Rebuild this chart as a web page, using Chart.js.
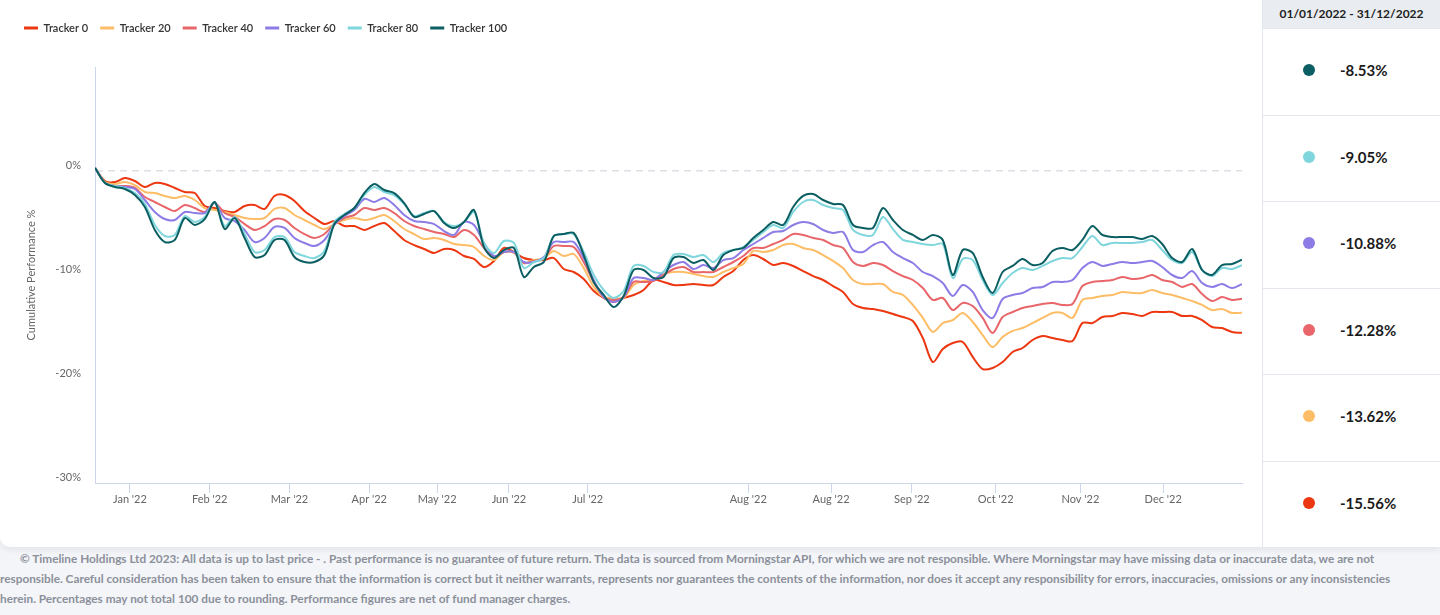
<!DOCTYPE html>
<html>
<head>
<meta charset="utf-8">
<script src="https://cdn.jsdelivr.net/npm/chart.js@4.4.0/dist/chart.umd.min.js"></script>
<style>
  html, body { margin: 0; padding: 0; }
  body { width: 1440px; height: 615px; background: #f4f5f9; font-family: Lato, "Noto Sans", sans-serif; overflow: hidden; position: relative; }
  .card { position: absolute; left: 0; top: 0; width: 1440px; height: 547px; background: #fff; border-bottom-left-radius: 10px; box-shadow: 0 3px 6px rgba(30, 40, 60, 0.08); }
  .chart-box { position: absolute; left: 0; top: 0; width: 1262px; height: 547px; }
  .side { position: absolute; left: 1262px; top: 0; width: 178px; height: 547px; border-left: 1px solid #e2e6ed; box-sizing: border-box; }
  .side .head { height: 28px; line-height: 28px; background: #e9ecf0; text-align: center; font-weight: 700; font-size: 12px; color: #222; }
  .side .row { height: 86.5px; display: flex; align-items: center; box-sizing: border-box; border-top: 1px solid #e3e7ed; padding-left: 40px; padding-bottom: 3px; }
  .side .row:first-of-type { border-top: none; }
  .side .dot { width: 12px; height: 12px; border-radius: 50%; margin-right: 25px; }
  .side .val { font-weight: 700; font-size: 15px; color: #1b1b1b; }
  .foot { position: absolute; left: 0; top: 549px; font-size: 11.8px; font-weight: 700; color: #8b909a; line-height: 20px; white-space: nowrap; }
  .foot span { display: block; }
  .foot span:first-child { padding-left: 20px; }
</style>
</head>
<body>
<div class="card">
  <div class="chart-box"><canvas id="perfChart"></canvas></div>
  <div class="side" id="side"></div>
</div>
<div class="foot">
  <span>© Timeline Holdings Ltd 2023: All data is up to last price - . Past performance is no guarantee of future return. The data is sourced from Morningstar API, for which we are not responsible. Where Morningstar may have missing data or inaccurate data, we are not</span>
  <span>responsible. Careful consideration has been taken to ensure that the information is correct but it neither warrants, represents nor guarantees the contents of the information, nor does it accept any responsibility for errors, inaccuracies, omissions or any inconsistencies</span>
  <span>herein. Percentages may not total 100 due to rounding. Performance figures are net of fund manager charges.</span>
</div>
<script>
const seriesNames = ["Tracker 0", "Tracker 20", "Tracker 40", "Tracker 60", "Tracker 80", "Tracker 100"];
const trackerColors = ["#ec3710", "#fdbd66", "#e8666a", "#8d7ce6", "#7fd6dc", "#0b5e61"];

const periodLabel = "01/01/2022 - 31/12/2022";
const periodReturns = [-15.56, -13.62, -12.28, -10.88, -9.05, -8.53];

const xTickPositions = [3.5, 11.5, 19.5, 27.5, 34.3, 41.5, 49.4, 65.5, 73.8, 81.9, 90.3, 98.8, 107.1];
const xTickLabels = ["Jan '22", "Feb '22", "Mar '22", "Apr '22", "May '22", "Jun '22", "Jul '22",
  "Aug '22", "Aug '22", "Sep '22", "Oct '22", "Nov '22", "Dec '22"];
const yTickValues = [-30, -20, -10, 0];

// cumulative performance %
const tracker0 = [
  0.3, -0.96, -1.06, -0.67, -0.96, -1.54, -1.15, -1.25, -1.63, -2.02,
  -2.12, -3.37, -3.56, -3.85, -3.94, -3.37, -3.27, -3.65, -2.40, -2.30,
  -2.88, -3.85, -4.52, -5.10, -4.81, -5.29, -5.29, -5.67, -5.29, -5.00,
  -5.77, -6.63, -7.12, -7.50, -7.88, -7.50, -7.60, -8.17, -8.46, -9.23,
  -8.65, -7.40, -7.79, -8.37, -8.56, -8.56, -8.37, -9.42, -9.71, -10.38,
  -11.54, -12.21, -12.60, -12.21, -11.92, -11.44, -10.48, -10.67, -10.96, -10.96,
  -10.87, -10.96, -10.96, -10.19, -9.62, -8.56, -8.08, -8.46, -9.04, -8.85,
  -9.13, -9.62, -10.10, -10.48, -11.06, -11.63, -12.79, -13.17, -13.27, -13.46,
  -13.75, -14.04, -14.42, -16.06, -18.37, -17.12, -16.54, -16.44, -17.88, -19.04,
  -18.94, -18.37, -17.40, -17.02, -16.25, -15.87, -16.06, -16.25, -16.35, -14.62,
  -14.62, -14.04, -13.94, -13.65, -13.75, -13.94, -13.56, -13.56, -13.56, -13.94,
  -13.94, -14.33, -15.00, -15.10, -15.48, -15.56
];
const tracker20 = [
  0.3, -1.06, -1.25, -1.06, -1.35, -2.02, -2.12, -2.40, -2.60, -2.40,
  -2.79, -3.56, -3.75, -3.94, -4.23, -4.52, -4.62, -4.52, -3.65, -3.56,
  -4.23, -4.71, -5.19, -5.58, -5.10, -4.71, -4.52, -4.71, -4.52, -4.23,
  -4.81, -5.58, -6.06, -6.54, -6.44, -6.63, -7.02, -7.12, -7.31, -8.17,
  -8.56, -7.79, -7.88, -8.85, -8.56, -8.37, -7.69, -8.17, -7.98, -9.33,
  -11.15, -12.12, -12.21, -12.21, -10.96, -10.58, -10.48, -9.90, -9.71, -9.71,
  -9.90, -10.10, -10.19, -9.71, -9.33, -8.94, -7.69, -7.79, -7.60, -7.12,
  -7.02, -7.40, -7.60, -8.08, -8.65, -9.33, -10.48, -10.87, -10.87, -10.87,
  -11.63, -11.92, -12.88, -14.13, -15.48, -14.62, -14.33, -13.65, -14.52, -15.77,
  -16.92, -15.96, -15.38, -15.10, -14.62, -14.13, -13.65, -13.65, -14.13, -12.40,
  -12.21, -12.02, -11.92, -11.63, -11.73, -11.73, -11.44, -11.73, -11.92, -12.21,
  -12.50, -12.88, -13.37, -13.27, -13.65, -13.62
];
const tracker40 = [
  0.3, -1.15, -1.44, -1.44, -1.63, -2.50, -2.98, -3.46, -3.85, -3.27,
  -3.56, -3.94, -3.08, -4.04, -4.42, -5.10, -5.67, -5.29, -4.62, -4.71,
  -5.48, -6.06, -6.44, -6.06, -5.10, -4.52, -4.23, -3.56, -3.75, -3.56,
  -4.04, -4.81, -5.29, -5.58, -5.87, -6.06, -6.35, -5.67, -6.15, -7.40,
  -8.27, -7.79, -7.79, -8.85, -8.65, -8.37, -7.21, -7.21, -7.31, -8.75,
  -10.67, -12.12, -12.40, -12.12, -10.67, -10.67, -10.58, -10.00, -9.42, -9.23,
  -9.71, -9.71, -9.71, -9.23, -8.75, -8.17, -7.40, -7.40, -7.02, -6.63,
  -6.06, -6.15, -6.44, -6.63, -7.12, -7.40, -8.75, -9.13, -8.85, -9.04,
  -9.62, -10.10, -10.48, -11.25, -12.40, -12.21, -13.37, -12.69, -12.98, -14.13,
  -15.58, -14.04, -13.56, -13.17, -12.98, -12.79, -12.69, -12.88, -12.79, -11.06,
  -10.67, -10.58, -10.48, -10.19, -10.38, -10.29, -10.00, -10.48, -10.67, -11.15,
  -10.87, -11.83, -12.50, -12.12, -12.40, -12.28
];
const tracker60 = [
  0.3, -1.15, -1.44, -1.54, -1.73, -2.79, -3.94, -4.62, -4.71, -3.94,
  -4.04, -4.04, -3.08, -4.52, -4.81, -5.67, -6.83, -6.44, -5.38, -5.48,
  -6.44, -6.92, -7.21, -6.63, -5.19, -4.33, -3.75, -2.69, -2.98, -2.60,
  -3.27, -4.23, -4.81, -4.90, -5.10, -5.77, -6.15, -4.90, -5.19, -6.92,
  -8.17, -7.79, -7.79, -8.75, -8.75, -8.27, -6.83, -6.83, -6.83, -8.37,
  -10.48, -12.12, -12.60, -12.12, -10.29, -10.29, -10.48, -9.71, -9.04, -8.75,
  -9.42, -9.04, -9.33, -8.56, -8.37, -7.60, -7.02, -6.44, -5.87, -5.77,
  -5.19, -4.90, -5.10, -5.67, -5.96, -5.87, -7.60, -7.79, -7.12, -6.83,
  -7.79, -8.37, -8.85, -9.71, -10.10, -10.77, -12.02, -10.96, -11.63, -13.37,
  -14.13, -12.31, -11.92, -11.73, -11.25, -11.15, -10.67, -10.67, -10.48, -9.33,
  -8.75, -9.13, -8.94, -8.75, -8.85, -8.75, -8.65, -9.23, -10.00, -10.29,
  -9.62, -10.77, -11.15, -10.87, -11.25, -10.88
];
const tracker80 = [
  0.3, -1.15, -1.44, -1.63, -2.12, -3.17, -5.19, -6.25, -6.15, -4.33,
  -4.90, -4.42, -2.98, -5.29, -4.42, -6.06, -7.79, -7.60, -6.35, -6.35,
  -7.79, -8.17, -8.37, -7.69, -4.90, -4.13, -3.56, -2.31, -1.54, -2.02,
  -2.31, -3.17, -4.33, -4.04, -3.85, -4.90, -5.29, -4.90, -3.94, -6.92,
  -7.88, -6.73, -6.92, -9.33, -8.75, -8.37, -6.25, -6.06, -6.06, -7.79,
  -10.00, -11.44, -12.21, -11.54, -9.13, -9.13, -9.71, -9.71, -8.08, -7.98,
  -8.27, -8.08, -8.75, -7.88, -7.60, -7.31, -6.63, -5.87, -5.19, -5.48,
  -3.94, -2.98, -2.79, -3.27, -3.56, -3.75, -5.67, -6.15, -6.15, -4.42,
  -5.58, -6.63, -6.83, -7.02, -7.12, -7.02, -10.29, -8.46, -8.56, -10.48,
  -11.92, -10.77, -9.81, -9.33, -9.52, -9.13, -8.65, -8.37, -8.37, -7.31,
  -6.25, -7.12, -6.92, -6.92, -6.92, -6.83, -6.63, -7.60, -8.56, -8.85,
  -7.79, -9.52, -10.10, -9.33, -9.42, -9.05
];
const tracker100 = [
  0.3, -1.15, -1.54, -1.73, -2.31, -3.46, -5.67, -6.83, -6.63, -4.52,
  -5.19, -4.62, -2.98, -5.58, -4.52, -6.44, -8.27, -8.08, -6.63, -6.63,
  -8.27, -8.75, -8.75, -8.08, -5.10, -4.23, -3.56, -2.12, -1.25, -1.83,
  -2.12, -3.08, -4.42, -4.13, -3.85, -5.00, -5.48, -4.90, -3.75, -7.31,
  -8.37, -7.60, -7.40, -10.19, -9.23, -8.75, -6.25, -6.06, -5.96, -8.08,
  -10.67, -11.92, -13.08, -12.02, -9.52, -9.52, -10.29, -10.19, -8.37, -8.27,
  -8.85, -8.56, -9.52, -8.08, -7.60, -7.40, -6.44, -5.67, -4.90, -5.19,
  -3.46, -2.40, -2.21, -2.79, -3.17, -3.27, -5.19, -5.48, -5.48, -3.56,
  -4.71, -5.67, -6.15, -6.63, -6.15, -6.63, -10.00, -7.60, -7.88, -10.19,
  -11.73, -9.71, -9.13, -8.46, -9.04, -8.85, -7.69, -7.40, -7.60, -6.63,
  -5.29, -6.15, -6.35, -6.35, -6.35, -6.54, -6.25, -7.02, -8.37, -8.75,
  -7.50, -9.52, -10.00, -9.04, -8.94, -8.53
];

const allSeries = [tracker0, tracker20, tracker40, tracker60, tracker80, tracker100];

// side panel: best to worst
const side = document.getElementById("side");
side.innerHTML = '<div class="head">' + periodLabel + '</div>';
for (let i = allSeries.length - 1; i >= 0; i--) {
  const row = document.createElement("div");
  row.className = "row";
  row.innerHTML = '<span class="dot" style="background:' + trackerColors[i] + '"></span>' +
    '<span class="val">' + periodReturns[i].toFixed(2) + '%</span>';
  side.appendChild(row);
}

Chart.defaults.font.family = "Lato, 'Noto Sans', sans-serif";

// push the plot down below the legend
const legendSpace = {
  id: "legendSpace",
  beforeInit(chart) {
    const fit = chart.legend.fit;
    chart.legend.fit = function () {
      fit.call(this);
      this.height = 56.5;
    };
  }
};

const ctx = document.getElementById("perfChart").getContext("2d");
new Chart(ctx, {
  type: "line",
  data: {
    labels: tracker0.map((_, i) => i),
    datasets: allSeries.map((data, i) => ({
      label: seriesNames[i],
      data: data,
      borderColor: trackerColors[i],
      backgroundColor: trackerColors[i],
      borderWidth: 2,
      pointRadius: 0,
      tension: 0.3,
      order: allSeries.length - i
    }))
  },
  options: {
    responsive: true,
    maintainAspectRatio: false,
    animation: false,
    layout: { padding: { top: 10.5, left: 12, right: 20, bottom: 0 } },
    plugins: {
      tooltip: { enabled: false },
      legend: {
        position: "top",
        align: "start",
        labels: {
          boxWidth: 14,
          boxHeight: 3,
          padding: 12,
          color: "#333",
          font: { size: 11, weight: "600" },
          sort: (a, b) => a.datasetIndex - b.datasetIndex,
          generateLabels: chart =>
            Chart.defaults.plugins.legend.labels.generateLabels(chart).map(l => ({ ...l, lineWidth: 0 }))
        }
      }
    },
    scales: {
      x: {
        type: "linear",
        min: 0,
        max: tracker0.length - 1,
        afterBuildTicks: s => { s.ticks = xTickPositions.map(v => ({ value: v })); },
        afterFit: s => { s.height = 64; },
        grid: { drawOnChartArea: false, drawTicks: true, tickLength: 10, color: "#ccd6eb" },
        border: { color: "#ccd6eb" },
        ticks: {
          autoSkip: false,
          maxRotation: 0,
          padding: 0,
          color: "#666",
          font: { size: 11 },
          callback: (v, i) => xTickLabels[i]
        }
      },
      y: {
        min: -30,
        max: 10,
        afterBuildTicks: s => { s.ticks = yTickValues.map(v => ({ value: v })); },
        afterFit: s => { s.width = 83; },
        grid: {
          drawTicks: false,
          lineWidth: 1.5,
          color: c => (c.tick && c.tick.value === 0 ? "#dcdfe5" : "transparent")
        },
        border: { color: "#ccd6eb", dash: [7, 5] },
        ticks: {
          padding: 14,
          labelOffset: -6,
          color: "#666",
          font: { size: 11 },
          callback: v => v + "%"
        },
        title: {
          display: true,
          text: "Cumulative Performance %",
          color: "#666",
          font: { size: 11 },
          padding: { top: 12.4, bottom: 0 }
        }
      }
    }
  },
  plugins: [legendSpace]
});
</script>
</body>
</html>
